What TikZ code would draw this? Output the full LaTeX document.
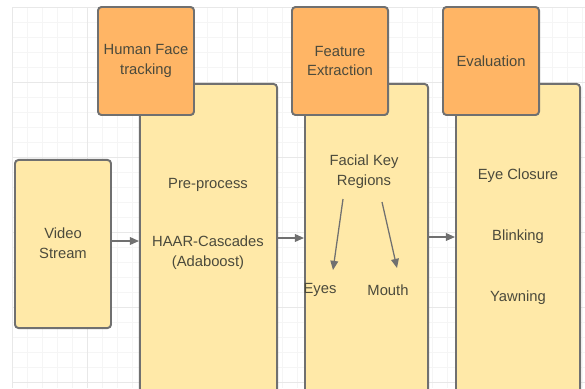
\documentclass[tikz,border=0pt]{standalone}
\usepackage{fontspec}
\setmainfont{Liberation Sans}
\usetikzlibrary{arrows.meta}

\definecolor{boxorange}{HTML}{FFB565}
\definecolor{boxyellow}{HTML}{FFE9A8}
\definecolor{edgegray}{HTML}{707070}
\definecolor{textgray}{HTML}{4B4A3C}
\definecolor{gridminor}{HTML}{F5F5F5}
\definecolor{gridmajor}{HTML}{E8E8E8}

\tikzset{
  box/.style={draw=edgegray, line width=1.4pt, rounded corners=2.5pt, inner sep=0pt},
  stage/.style={box, fill=boxorange, minimum width=2.4cm, minimum height=2.7cm},
  panel/.style={box, fill=boxyellow},
  txt/.style={align=center, text=textgray, inner sep=1pt,
    font=\fontsize{10.5}{14.2}\selectfont},
  arr/.style={draw=edgegray, line width=0.9pt, -{Triangle[length=6.5pt, width=5.5pt]}}
}

\begin{document}
\begin{tikzpicture}[x=0.025cm, y=-0.025cm]
  \useasboundingbox (0,0) rectangle (585,388);
  \clip (0,0) rectangle (585,388);

  % background grid
  \foreach \gx in {12,27,...,585} \draw[gridminor, line width=0.4pt] (\gx,7) -- (\gx,388);
  \foreach \gy in {7,22,...,388} \draw[gridminor, line width=0.4pt] (12,\gy) -- (585,\gy);
  \foreach \gx in {12,87,...,585} \draw[gridmajor, line width=0.5pt] (\gx,7) -- (\gx,388);
  \foreach \gy in {7,82,...,388} \draw[gridmajor, line width=0.5pt] (12,\gy) -- (585,\gy);

  % input
  \node[panel, minimum width=2.4cm, minimum height=4.2cm] (video) at (63,244) {};
  \node[txt] (videotxt) at (63,243) {Video\\Stream};

  % large panels
  \node[panel, minimum width=3.425cm, minimum height=8cm] (pre) at (208.5,244) {};
  \node[panel, minimum width=3.075cm, minimum height=8cm] (feat) at (366.5,244) {};
  \node[panel, minimum width=3.1cm, minimum height=8cm] (eval) at (518,244) {};

  % stage headers on top
  \node[stage, txt] (track) at (146,61) {Human Face\\tracking};
  \node[stage, txt] (extract) at (340,61) {Feature\\Extraction};
  \node[stage, txt] (judge) at (491,61) {Evaluation};

  % panel contents
  \node[txt] (prep) at (208,185) {Pre-process};
  \node[txt] (haar) at (208,253) {HAAR-Cascades\\(Adaboost)};
  \node[txt] (keys) at (364,172) {Facial Key\\Regions};
  \node[txt] (eyes) at (320,290) {Eyes};
  \node[txt] (mouth) at (388,290) {Mouth};
  \node[txt] (closure) at (518,176) {Eye Closure};
  \node[txt] (blink) at (518,237) {Blinking};
  \node[txt] (yawn) at (518,298) {Yawning};

  % flow between stages
  \draw[arr] (video.east |- 0,241) -- (pre.west |- 0,241);
  \draw[arr] (pre.east |- 0,238) -- (feat.west |- 0,238);
  \draw[arr] (feat.east |- 0,237) -- (eval.west |- 0,237);

  % split into regions
  \coordinate (k1) at (343,199);
  \coordinate (k2) at (382,202);
  \coordinate (e1) at (333,270);
  \coordinate (m1) at (397,268);
  \draw[arr] (k1) -- (e1);
  \draw[arr] (k2) -- (m1);
\end{tikzpicture}
\end{document}
